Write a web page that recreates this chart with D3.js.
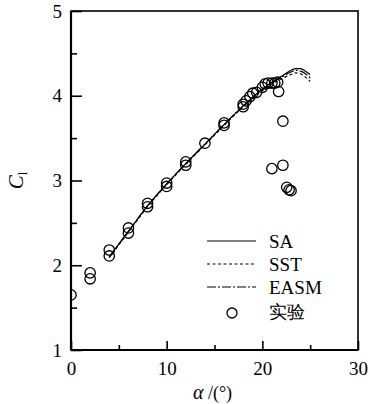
<!DOCTYPE html>
<html>
<head>
<meta charset="utf-8">
<script src="https://cdn.jsdelivr.net/npm/d3@7/dist/d3.min.js"></script>
<style>
  html, body { margin: 0; padding: 0; background: #fff; }
  svg { display: block; }
  text { fill: #000; }
</style>
</head>
<body>
<svg id="chart" width="370" height="404"></svg>
<script>
// Lift coefficient vs. angle of attack: three turbulence models and test data
const alphaSA   = [4, 6, 8, 10, 12, 14, 16, 18, 20, 21, 22, 23, 23.5, 24, 24.5, 25];
const clSA      = [2.10, 2.40, 2.70, 2.96, 3.20, 3.43, 3.66, 3.88, 4.08, 4.16, 4.23, 4.30, 4.32, 4.32, 4.29, 4.25];
const alphaSST  = [4, 6, 8, 10, 12, 14, 16, 18, 20, 21, 22, 23, 23.5, 24, 24.5, 25];
const clSST     = [2.09, 2.39, 2.69, 2.95, 3.19, 3.42, 3.65, 3.87, 4.06, 4.14, 4.20, 4.25, 4.27, 4.26, 4.22, 4.17];
const alphaEASM = [4, 6, 8, 10, 12, 14, 16, 18, 20, 21, 22, 23, 23.5, 24, 24.5, 25];
const clEASM    = [2.10, 2.40, 2.70, 2.96, 3.20, 3.43, 3.66, 3.88, 4.07, 4.15, 4.22, 4.28, 4.30, 4.29, 4.26, 4.21];

const alphaExp = [0, 2, 2, 4, 4, 6, 6, 8, 8, 10, 10, 12, 12, 14, 16, 16, 18, 18,
                  18.3, 18.7, 19.0, 19.4, 20.0, 20.3, 20.6, 21.0, 21.3, 21.6, 21.7,
                  22.15, 21.0, 22.15, 22.55, 22.8, 23.0];
const clExp    = [1.65, 1.91, 1.84, 2.18, 2.11, 2.44, 2.38, 2.73, 2.69, 2.97, 2.93, 3.22, 3.18, 3.44, 3.68, 3.65, 3.90, 3.87,
                  3.94, 3.99, 4.03, 4.04, 4.10, 4.14, 4.15, 4.15, 4.15, 4.16, 4.05,
                  3.70, 3.14, 3.18, 2.92, 2.89, 2.88];

const xTicks = [0, 10, 20, 30];
const yTicks = [1, 2, 3, 4, 5];
const xMinor = [5, 15, 25];
const yMinor = [1.5, 2.5, 3.5, 4.5];

const legendNames = ["SA", "SST", "EASM", "实验"];

const SERIF = "'Liberation Serif', 'Times New Roman', serif";

const svg = d3.select("#chart");
const x = d3.scaleLinear().domain([0, 30]).range([71, 358]);
const y = d3.scaleLinear().domain([1, 5]).range([350, 11]);

svg.append("defs").append("clipPath").attr("id", "plot-clip")
  .append("rect")
  .attr("x", x(0)).attr("y", y(5))
  .attr("width", x(30) - x(0)).attr("height", y(1) - y(5));

// frame
svg.append("rect")
  .attr("x", x(0)).attr("y", y(5))
  .attr("width", x(30) - x(0)).attr("height", y(1) - y(5))
  .attr("fill", "none").attr("stroke", "#000").attr("stroke-width", 1.6);

// bottom axis, ticks pointing inward
const xAxis = svg.append("g").attr("transform", `translate(0,${y(1)})`)
  .call(d3.axisBottom(x).tickValues(xTicks).tickSize(-9).tickPadding(12).tickFormat(d3.format("d")));
xAxis.select(".domain").remove();
xAxis.selectAll("line").attr("stroke-width", 1.6);
xAxis.selectAll("text").attr("dy", "0.71em")
  .style("font-family", SERIF).style("font-size", "19px");

const xMin = svg.append("g").attr("transform", `translate(0,${y(1)})`)
  .call(d3.axisBottom(x).tickValues(xMinor).tickSize(-5).tickFormat(""));
xMin.select(".domain").remove();
xMin.selectAll("line").attr("stroke-width", 1.6);

// left axis, ticks pointing inward
const yAxis = svg.append("g").attr("transform", `translate(${x(0)},0)`)
  .call(d3.axisLeft(y).tickValues(yTicks).tickSize(-11).tickPadding(9).tickFormat(d3.format("d")));
yAxis.select(".domain").remove();
yAxis.selectAll("line").attr("stroke-width", 1.6);
yAxis.selectAll("text")
  .style("font-family", SERIF).style("font-size", "19px");

const yMin = svg.append("g").attr("transform", `translate(${x(0)},0)`)
  .call(d3.axisLeft(y).tickValues(yMinor).tickSize(-6).tickFormat(""));
yMin.select(".domain").remove();
yMin.selectAll("line").attr("stroke-width", 1.6);

// heavier left and bottom spines
svg.append("line").attr("x1", x(0)).attr("x2", x(0)).attr("y1", y(5)).attr("y2", y(1))
  .attr("stroke", "#000").attr("stroke-width", 2.2);
svg.append("line").attr("x1", x(0)).attr("x2", x(30)).attr("y1", y(1)).attr("y2", y(1))
  .attr("stroke", "#000").attr("stroke-width", 2);

// axis titles
const yt = svg.append("text")
  .attr("transform", `translate(23,${(y(1) + y(5)) / 2}) rotate(-90)`)
  .attr("text-anchor", "middle")
  .style("font-family", SERIF).style("font-size", "21px");
yt.append("tspan").style("font-style", "italic").text("C");
yt.append("tspan").style("font-size", "13px").attr("dy", 4).text("l");

const xt = svg.append("text")
  .attr("x", x(15) - 2).attr("y", 399)
  .attr("text-anchor", "middle")
  .style("font-family", SERIF).style("font-size", "20px");
xt.append("tspan").style("font-style", "italic").text("α");
xt.append("tspan").style("font-size", "18px").text(" /(°)");

// model curves
const line = d3.line().x(d => x(d[0])).y(d => y(d[1])).curve(d3.curveMonotoneX);
const series = [
  { a: alphaSA,   c: clSA,   dash: null },
  { a: alphaSST,  c: clSST,  dash: "3,2.5" },
  { a: alphaEASM, c: clEASM, dash: "9,2,2,2" }
];
series.forEach(s => {
  svg.append("path")
    .datum(s.a.map((a, i) => [a, s.c[i]]))
    .attr("d", line)
    .attr("fill", "none").attr("stroke", "#000").attr("stroke-width", 1.2)
    .attr("stroke-dasharray", s.dash);
});

// experimental points (clipped to the plot frame)
svg.append("g").attr("clip-path", "url(#plot-clip)")
  .selectAll("circle")
  .data(alphaExp.map((a, i) => [a, clExp[i]]))
  .join("circle")
  .attr("cx", d => x(d[0])).attr("cy", d => y(d[1])).attr("r", 5.2)
  .attr("fill", "none").attr("stroke", "#000").attr("stroke-width", 1.3);

// legend
const lg = svg.append("g");
const ly = [241, 264, 287, 311];
series.forEach((s, i) => {
  lg.append("line").attr("x1", 207).attr("x2", 256).attr("y1", ly[i]).attr("y2", ly[i])
    .attr("stroke", "#000").attr("stroke-width", 1.2).attr("stroke-dasharray", s.dash);
});
lg.append("circle").attr("cx", 232).attr("cy", ly[3] + 2).attr("r", 5)
  .attr("fill", "none").attr("stroke", "#000").attr("stroke-width", 1.3);
legendNames.forEach((n, i) => {
  lg.append("text").attr("x", 269).attr("y", ly[i] + 7)
    .style("font-family", SERIF)
    .style("font-size", i === 3 ? "18px" : "19px")
    .text(n);
});
</script>
</body>
</html>
